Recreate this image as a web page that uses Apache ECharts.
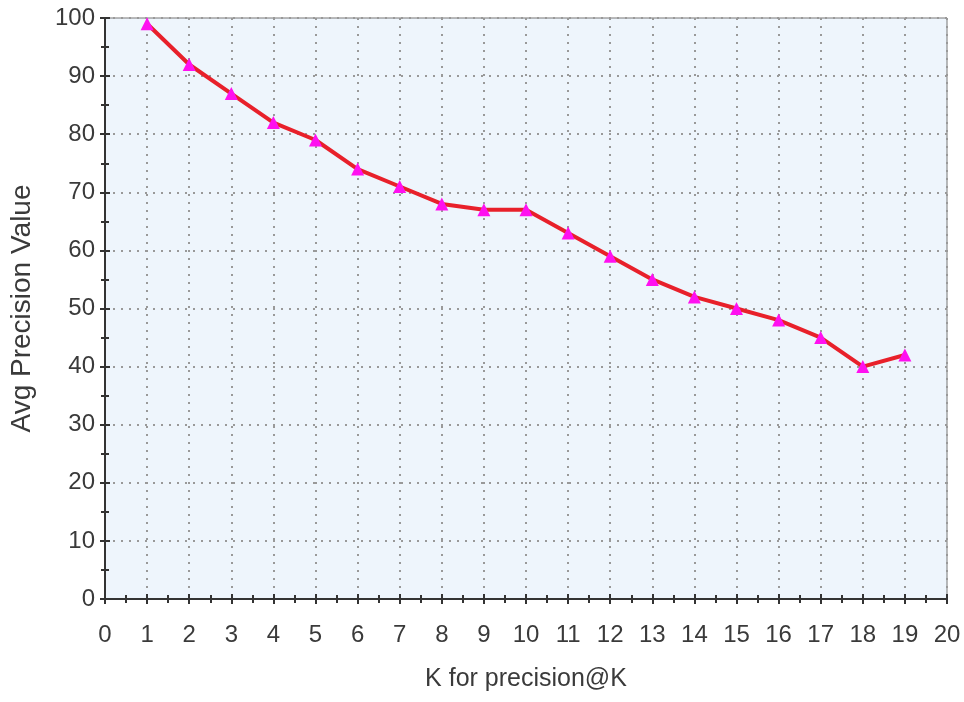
<!DOCTYPE html>
<html>
<head>
<meta charset="utf-8">
<script src="https://cdn.jsdelivr.net/npm/echarts@6/dist/echarts.min.js"></script>
<style>html,body{margin:0;padding:0;background:#fff}#c{width:964px;height:702px}</style>
</head>
<body>
<div id="c"></div>
<script>
var kValues = [1,2,3,4,5,6,7,8,9,10,11,12,13,14,15,16,17,18,19];
var precision = [99,92,87,82,79,74,71,68,67,67,63,59,55,52,50,48,45,40,42];
var xName = 'K for precision@K';
var yName = 'Avg Precision Value';

var chart = echarts.init(document.getElementById('c'));
var pts = kValues.map(function(k,i){return [k, precision[i]];});
var font = 'Liberation Sans, Arial, sans-serif';
var axisBase = {
  type:'value',
  axisLine:{show:true,lineStyle:{color:'#333',width:2}},
  axisLabel:{color:'#3a3a3a',fontSize:24,fontFamily:font},
  nameTextStyle:{color:'#3a3a3a',fontSize:25,fontFamily:font}
};
chart.setOption({
  animation:false,
  grid:{left:104,right:17,top:18,bottom:103,show:true,backgroundColor:'#eef5fc',borderColor:'#777',borderWidth:1},
  xAxis:[
    Object.assign({}, axisBase, {
      min:0,max:20,interval:1,
      name:xName,nameLocation:'middle',nameGap:68,
      axisLabel:Object.assign({},axisBase.axisLabel,{margin:24}),
      axisTick:{show:true,length:5,lineStyle:{color:'#333',width:2}},
      minorTick:{show:true,splitNumber:2,length:4,lineStyle:{color:'#333',width:2}},
      splitLine:{show:true,lineStyle:{color:'#999',type:[2,6],width:2}}
    }),
    {type:'value',min:0,max:20,interval:1,position:'bottom',
     axisLine:{show:false},axisLabel:{show:false},
     axisTick:{show:true,inside:true,length:5,lineStyle:{color:'#333',width:2}},
     minorTick:{show:true,splitNumber:2,length:4,lineStyle:{color:'#333',width:2}},
     splitLine:{show:false}}
  ],
  yAxis:[
    Object.assign({}, axisBase, {
      min:0,max:100,interval:10,
      name:yName,nameLocation:'middle',nameGap:69,
      nameTextStyle:{color:'#3a3a3a',fontSize:28,fontFamily:font},
      axisLabel:Object.assign({},axisBase.axisLabel,{margin:10}),
      axisTick:{show:true,length:5,lineStyle:{color:'#333',width:2}},
      minorTick:{show:true,splitNumber:2,length:4,lineStyle:{color:'#333',width:2}},
      splitLine:{show:true,lineStyle:{color:'#999',type:[2,6],width:2}}
    }),
    {type:'value',min:0,max:100,interval:10,position:'left',
     axisLine:{show:false},axisLabel:{show:false},
     axisTick:{show:true,inside:true,length:5,lineStyle:{color:'#333',width:2}},
     minorTick:{show:true,splitNumber:2,length:4,lineStyle:{color:'#333',width:2}},
     splitLine:{show:false}}
  ],
  series:[{
    type:'line',
    data:pts,
    xAxisIndex:0,yAxisIndex:0,
    symbol:'triangle',symbolSize:13,
    itemStyle:{color:'#ff10f0'},
    lineStyle:{color:'#e8202a',width:4},
    z:5
  }]
});
</script>
</body>
</html>
